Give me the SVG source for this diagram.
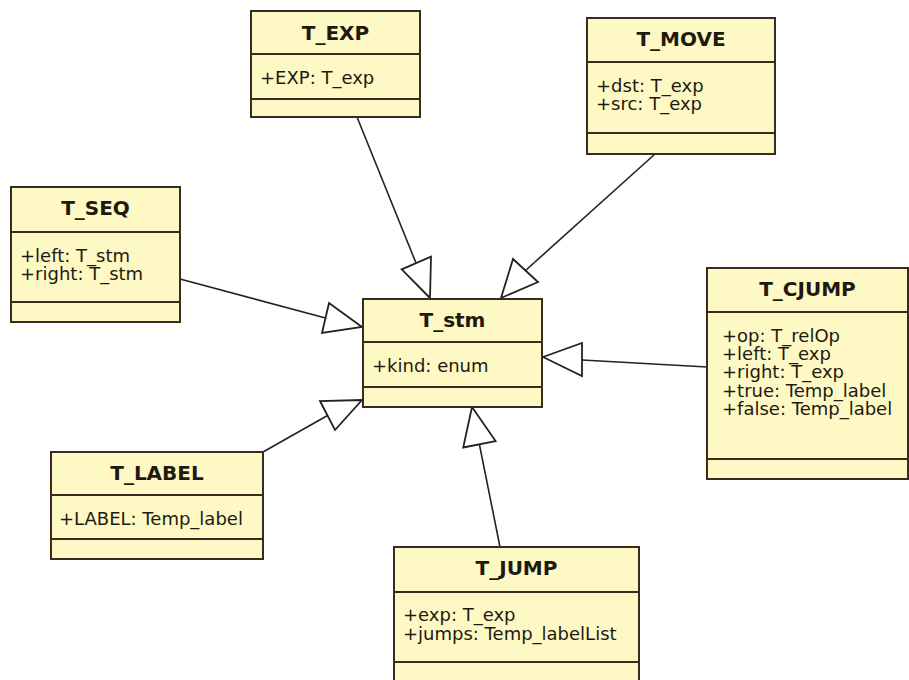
<svg xmlns="http://www.w3.org/2000/svg" width="909" height="680" viewBox="0 0 909 680">
<style>
.box{fill:#FDF8C4;stroke:#3b2b1e;stroke-width:2}
.div{stroke:#3b2b1e;stroke-width:2}
.title{font-family:"DejaVu Sans",sans-serif;font-weight:bold;font-size:20px;fill:#1e1a10;text-anchor:middle}
.attr{font-family:"DejaVu Sans",sans-serif;font-size:18px;fill:#1e1a10}
.conn line{stroke:#222;stroke-width:1.6}
.conn polygon{fill:#fff;stroke:#222;stroke-width:1.8;stroke-linejoin:miter}
</style>
<rect width="909" height="680" fill="#fff"/>
<g class="conn" id="connectors">
<line x1="357" y1="117" x2="416" y2="263"/>
<polygon points="430,298 401.7,269.3 431,256.7"/>
<line x1="655" y1="154" x2="525.5" y2="270.5"/>
<polygon points="501,298 513,259 538,282"/>
<line x1="180" y1="279" x2="325.5" y2="318"/>
<polygon points="362,327 329,303 322,333"/>
<line x1="707" y1="367" x2="582" y2="360"/>
<polygon points="543,357 582,343 582,376"/>
<line x1="263" y1="452" x2="327.5" y2="415.5"/>
<polygon points="362,400 320,401 335,430"/>
<line x1="500" y1="547" x2="479.4" y2="444.3"/>
<polygon points="472,407 495.6,441.1 463.2,447.5"/>
</g>
<g id="T_EXP">
<rect class="box" x="251" y="11" width="169" height="106"/>
<line class="div" x1="251" y1="54" x2="420" y2="54"/>
<line class="div" x1="251" y1="99" x2="420" y2="99"/>
<text class="title" x="335.5" y="40">T_EXP</text>
<text class="attr" x="260" y="83.5">+EXP: T_exp</text>
</g>
<g id="T_MOVE">
<rect class="box" x="587" y="18" width="188" height="136"/>
<line class="div" x1="587" y1="62" x2="775" y2="62"/>
<line class="div" x1="587" y1="133" x2="775" y2="133"/>
<text class="title" x="681" y="46">T_MOVE</text>
<text class="attr" x="596" y="91.7">+dst: T_exp<tspan x="596" dy="18.3">+src: T_exp</tspan></text>
</g>
<g id="T_SEQ">
<rect class="box" x="11" y="187" width="169" height="135"/>
<line class="div" x1="11" y1="232" x2="180" y2="232"/>
<line class="div" x1="11" y1="302" x2="180" y2="302"/>
<text class="title" x="95.5" y="215">T_SEQ</text>
<text class="attr" x="20" y="261.7">+left: T_stm<tspan x="20" dy="18.3">+right: T_stm</tspan></text>
</g>
<g id="T_stm">
<rect class="box" x="363" y="299" width="179" height="108"/>
<line class="div" x1="363" y1="342" x2="542" y2="342"/>
<line class="div" x1="363" y1="387" x2="542" y2="387"/>
<text class="title" x="452.5" y="327">T_stm</text>
<text class="attr" x="372" y="371.7">+kind: enum</text>
</g>
<g id="T_CJUMP">
<rect class="box" x="707" y="268" width="201" height="211"/>
<line class="div" x1="707" y1="312" x2="908" y2="312"/>
<line class="div" x1="707" y1="459" x2="908" y2="459"/>
<text class="title" x="807.5" y="296">T_CJUMP</text>
<text class="attr" x="722" y="341.7">+op: T_relOp<tspan x="722" dy="18.3">+left: T_exp</tspan><tspan x="722" dy="18.3">+right: T_exp</tspan><tspan x="722" dy="18.3">+true: Temp_label</tspan><tspan x="722" dy="18.3">+false: Temp_label</tspan></text>
</g>
<g id="T_LABEL">
<rect class="box" x="51" y="452" width="212" height="107"/>
<line class="div" x1="51" y1="495" x2="263" y2="495"/>
<line class="div" x1="51" y1="539" x2="263" y2="539"/>
<text class="title" x="157" y="480">T_LABEL</text>
<text class="attr" x="59" y="524.5">+LABEL: Temp_label</text>
</g>
<g id="T_JUMP">
<rect class="box" x="394" y="547" width="245" height="145"/>
<line class="div" x1="394" y1="592" x2="639" y2="592"/>
<line class="div" x1="394" y1="662" x2="639" y2="662"/>
<text class="title" x="516.5" y="575">T_JUMP</text>
<text class="attr" x="403" y="621">+exp: T_exp<tspan x="403" dy="18.5">+jumps: Temp_labelList</tspan></text>
</g>
</svg>
